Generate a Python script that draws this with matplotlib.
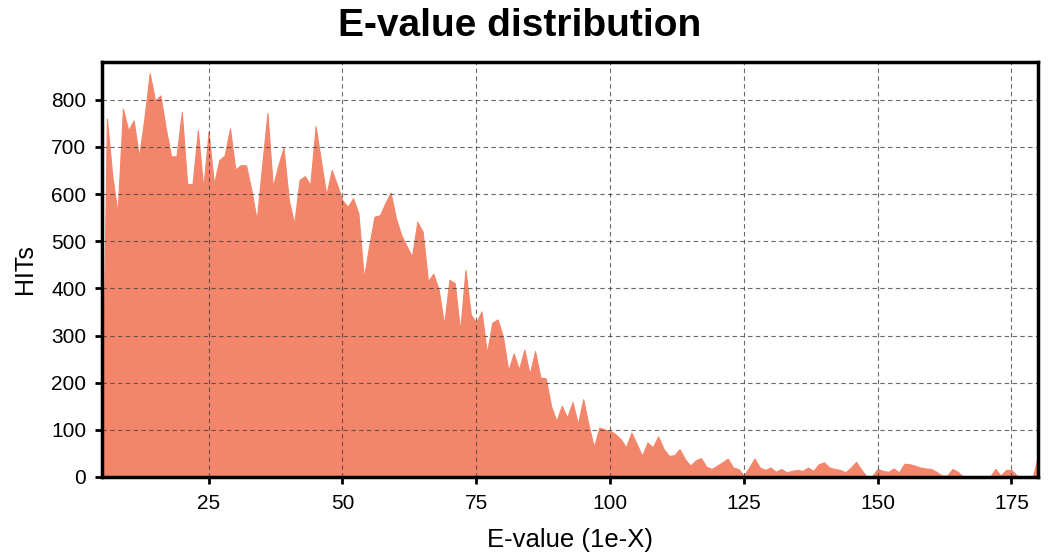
import matplotlib
matplotlib.use("Agg")
from matplotlib import pyplot as plt
import numpy as np

plt.rcParams['font.family'] = ['Liberation Sans', 'DejaVu Sans']

# E-value exponent (1e-X) and number of hits
evalue = list(range(5, 181))
hits = [
    0, 760, 640, 559, 781, 735, 756, 679, 760, 856,          # 5-14
    798, 809, 740, 680, 680, 774, 621, 621, 735, 612,        # 15-24
    732, 621, 672, 682, 739, 652, 661, 661, 608, 545,        # 25-34
    660, 772, 615, 660, 698, 587, 537, 630, 638, 619,        # 35-44
    744, 670, 598, 651, 620, 587, 573, 591, 559, 422,        # 45-54
    490, 552, 555, 580, 603, 549, 513, 490, 467, 541,        # 55-64
    520, 415, 431, 397, 323, 418, 411, 309, 439, 344,        # 65-74
    327, 351, 263, 327, 334, 298, 225, 262, 228, 270,        # 75-84
    218, 267, 211, 209, 150, 119, 151, 126, 159, 112,        # 85-94
    165, 110, 63, 105, 101, 98, 91, 80, 63, 94,              # 95-104
    70, 45, 73, 63, 86, 60, 45, 46, 59, 38,                  # 105-114
    24, 35, 40, 22, 17, 24, 31, 39, 20, 17,                  # 115-124
    3, 20, 39, 20, 15, 20, 11, 17, 10, 13,                   # 125-134
    15, 13, 20, 13, 27, 31, 20, 17, 15, 10,                  # 135-144
    20, 32, 15, 0, 2, 17, 13, 11, 18, 10,                    # 145-154
    28, 27, 24, 20, 18, 17, 11, 3, 3, 17,                    # 155-164
    11, 0, 0, 0, 0, 0, 0, 17, 3, 15,                         # 165-174
    15, 3, 0, 0, 0, 45,                                      # 175-180
]

fig = plt.figure(figsize=(10.5, 5.58), dpi=100)
ax = fig.add_axes([0.0967, 0.1452, 0.892, 0.7437])

ax.fill_between(evalue, hits, 0, color='#f3856a', linewidth=0.8, zorder=1)

ax.set_xlim(5, 180)
ax.set_ylim(0, 880)
ax.set_xticks([25, 50, 75, 100, 125, 150, 175])
ax.set_yticks(np.arange(0, 900, 100))

ax.grid(True, linestyle=(0, (4, 3)), color='#444444', linewidth=0.8, alpha=0.8, zorder=2)
ax.set_axisbelow(False)

for sp in ax.spines.values():
    sp.set_linewidth(2.5)
    sp.set_zorder(3)

ax.tick_params(labelsize=15, width=2, length=5)
ax.tick_params(axis='x', pad=7)
ax.tick_params(axis='y', pad=6)
ax.set_xlabel("E-value (1e-X)", fontsize=18.5, labelpad=11)
ax.set_ylabel("HITs", fontsize=18, labelpad=10)
fig.suptitle("E-value distribution", x=0.495, y=0.985, va='top',
             fontsize=28, fontweight='bold')

fig.savefig("out.png", dpi=100)
